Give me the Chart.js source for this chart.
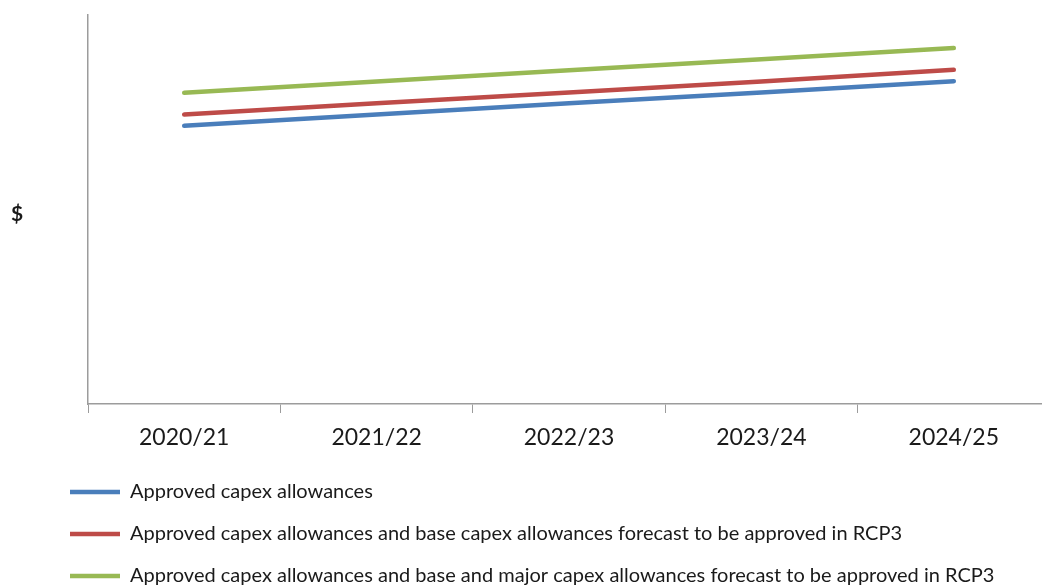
<!DOCTYPE html>
<html>
<head>
<meta charset="utf-8">
<script src="https://cdn.jsdelivr.net/npm/chart.js@4"></script>
<style>
  html, body { margin: 0; padding: 0; background: #fff; overflow: hidden; width: 1042px; height: 587px; }
  #wrap { position: absolute; left: 0; top: 0; width: 1050px; height: 596px; }
</style>
</head>
<body>
<div id="wrap"><canvas id="chart" width="1050" height="596"></canvas></div>
<script>
// years on the x axis
const years = ['2020/21', '2021/22', '2022/23', '2023/24', '2024/25'];

// no y scale in the original, values read on a 0-100 relative scale
const approved = [71.5, 74.4, 77.3, 80.1, 83.0];
const approvedBase = [74.4, 77.3, 80.1, 82.9, 85.9];
const approvedBaseMajor = [80.0, 82.9, 85.8, 88.6, 91.5];

const seriesNames = [
  'Approved capex allowances',
  'Approved capex allowances and base capex allowances forecast to be approved in RCP3',
  'Approved capex allowances and base and major capex allowances forecast to be approved in RCP3',
];

const COLORS = {
  blue: '#4A7EBB',
  red: '#BE4B48',
  green: '#98B954',
  axis: '#9c9c9c',
  text: '#1a1a1a',
};

const FONT = 'Lato, "Open Sans", sans-serif';

function lineSet(label, data, color) {
  return {
    label,
    data,
    borderColor: color,
    backgroundColor: color,
    borderWidth: 4.5,
    borderCapStyle: 'round',
    pointRadius: 0,
    pointHoverRadius: 0,
    pointStyle: 'line',
    tension: 0,
    fill: false,
  };
}

// "$" label left of the y axis (not rotated like a normal axis title)
const dollarLabel = {
  id: 'dollarLabel',
  afterDraw(chart) {
    const { ctx, chartArea } = chart;
    ctx.save();
    ctx.font = 'bold 21px ' + FONT;
    ctx.fillStyle = COLORS.text;
    ctx.textAlign = 'center';
    ctx.textBaseline = 'middle';
    ctx.fillText('$', 17, chartArea.top + (chartArea.bottom - chartArea.top) * 0.512);
    ctx.restore();
  },
};

new Chart(document.getElementById('chart'), {
  type: 'line',
  data: {
    labels: years,
    datasets: [
      lineSet(seriesNames[0], approved, COLORS.blue),
      lineSet(seriesNames[1], approvedBase, COLORS.red),
      lineSet(seriesNames[2], approvedBaseMajor, COLORS.green),
    ],
  },
  options: {
    responsive: false,
    animation: false,
    layout: { padding: { left: 48, right: 0, top: 15, bottom: 0 } },
    plugins: {
      tooltip: { enabled: false },
      legend: {
        position: 'bottom',
        align: 'start',
        labels: {
          usePointStyle: true,
          pointStyleWidth: 50,
          padding: 22,
          color: COLORS.text,
          font: { family: FONT, size: 20 },
        },
      },
    },
    scales: {
      x: {
        offset: true,
        afterFit: (s) => { s.height = 56; },
        grid: {
          offset: true,
          drawOnChartArea: false,
          drawTicks: true,
          tickLength: 9,
          color: COLORS.axis,
        },
        border: { display: true, color: COLORS.axis, width: 1.5 },
        ticks: {
          color: COLORS.text,
          padding: 11,
          maxRotation: 0,
          font: { family: FONT, size: 23 },
        },
      },
      y: {
        min: 0,
        max: 100,
        afterFit: (s) => { s.width = 40; },
        grid: { display: false },
        border: { display: true, color: COLORS.axis, width: 1.5 },
        ticks: { display: false },
      },
    },
  },
  plugins: [dollarLabel],
});
</script>
</body>
</html>
